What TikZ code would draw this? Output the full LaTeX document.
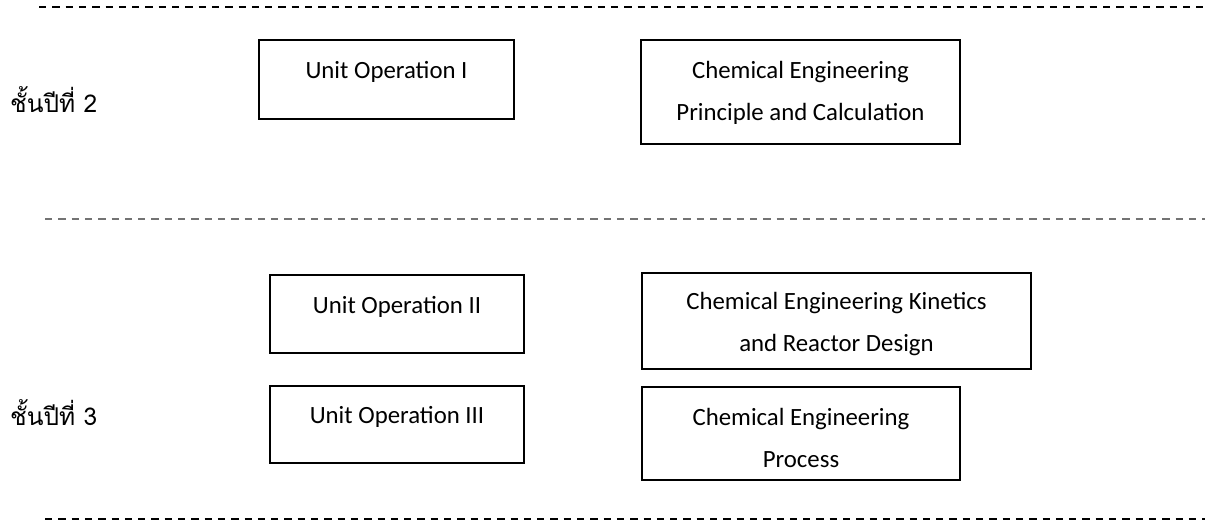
\documentclass[tikz,border=0pt]{standalone}
\usepackage{fontspec}
\setmainfont{Carlito}
\newfontfamily\thaifont[Script=Thai]{Loma}
\usetikzlibrary{calc}
\begin{document}
\begin{tikzpicture}[x=1pt,y=-1pt,
  course/.style={draw, line width=2pt, inner sep=0pt, anchor=north west},
  % anchor=base sits on the baseline of the last line of the node
  ctext/.style={font=\fontsize{24.8}{42}\selectfont, align=center, anchor=base, inner sep=0pt},
  yearlbl/.style={font=\thaifont\fontsize{24.5}{28}\selectfont, anchor=base west, inner sep=0pt},
  divider/.style={dash pattern=on 7.3pt off 6pt, line width=2.2pt},
  softdivider/.style={divider, line width=1.6pt, draw=black!55},
]
\useasboundingbox (0,0) rectangle (1208,523);

% year separators
\coordinate (d1s) at (39,7);   \coordinate (d1e) at (1203,7);
\coordinate (d2s) at (45,219); \coordinate (d2e) at (1205,219);
\coordinate (d3s) at (45,519); \coordinate (d3e) at (1205,519);
\draw[divider] (d1s) -- (d1e);
\draw[softdivider] (d2s) -- (d2e);
\draw[divider] (d3s) -- (d3e);

% year labels
\node[yearlbl] (y2) at (10,112) {ชั้นปีที่ 2};
\node[yearlbl] (y3) at (10,425) {ชั้นปีที่ 3};

% second-year courses
\node[course, minimum width=255pt, minimum height=79pt] (uo1) at (258,39) {};
\node[ctext] (uo1t) at ($(uo1.north)+(0,39)$) {Unit Operation I};
\node[course, minimum width=319pt, minimum height=104pt] (cepc) at (640,39) {};
\node[ctext] (cepct) at ($(cepc.north)+(0,81)$) {Chemical Engineering\\Principle and Calculation};

% third-year courses
\node[course, minimum width=254pt, minimum height=78pt] (uo2) at (269,274) {};
\node[ctext] (uo2t) at ($(uo2.north)+(0,39)$) {Unit Operation II};
\node[course, minimum width=254pt, minimum height=77pt] (uo3) at (269,385) {};
\node[ctext] (uo3t) at ($(uo3.north)+(0,38)$) {Unit Operation III};
\node[course, minimum width=389pt, minimum height=96pt] (kin) at (641,272) {};
\node[ctext] (kint) at ($(kin.north)+(0,79)$) {Chemical Engineering Kinetics\\and Reactor Design};
\node[course, minimum width=318pt, minimum height=93pt] (proc) at (641,386) {};
\node[ctext] (proct) at ($(proc.north)+(0,81)$) {Chemical Engineering\\Process};
\end{tikzpicture}
\end{document}
